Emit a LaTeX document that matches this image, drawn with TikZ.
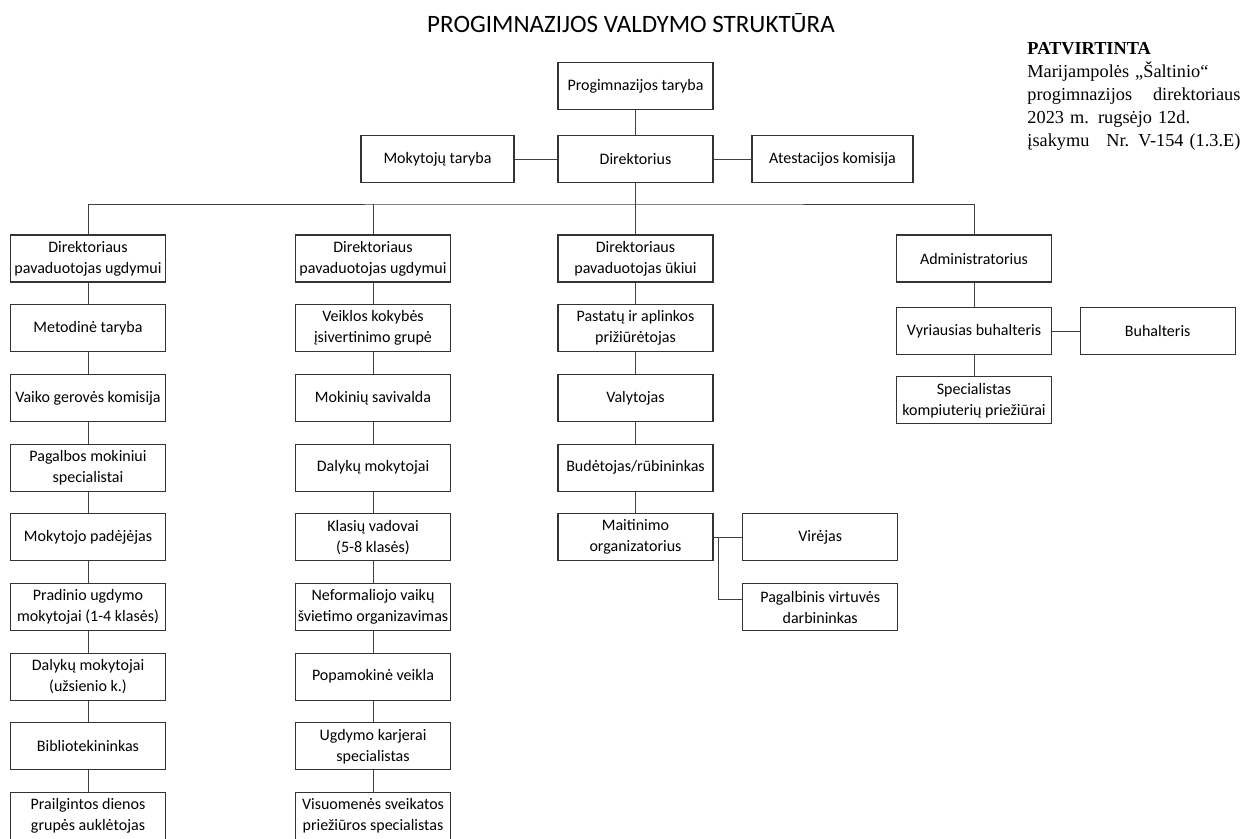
\documentclass[tikz,border=0pt]{standalone}
\usepackage{fontspec}
\setmainfont{Carlito}
\newfontfamily\notefont{Liberation Serif}
\usetikzlibrary{positioning}

\begin{document}
\begin{tikzpicture}[x=1pt,y=1pt,node distance=69.7pt,line width=0.9pt,
    box/.style={rectangle,draw=black!80,line width=1.1pt,minimum width=155pt,minimum height=47pt,inner sep=1pt,align=center,font=\fontsize{16}{21}\selectfont},
    link/.style={draw=black!75}]
            \useasboundingbox (0,0) rectangle (1241,-838);

            \node[] (title) at (631,-23) {\fontsize{25}{30}\selectfont PROGIMNAZIJOS VALDYMO STRUKTŪRA};
            \node[anchor=north west,align=left,text width=213pt,inner sep=0pt,font=\notefont\fontsize{18.3}{23}\selectfont] (note) at (1027,-42)
                {\textbf{PATVIRTINTA}\\Marijampolės „Šaltinio“\\progimnazijos\hfill direktoriaus\\2023 m. rugsėjo 12d.\\įsakymu\hfill Nr. V-154 (1.3.E)};

            \node[box] (taryba) at (635.5,-86) {Progimnazijos taryba};
            \node[box] (dir) at (635.5,-159) {Direktorius};
            \node[box,minimum width=153pt] (mokt) at (437.5,-159) {Mokytojų taryba};
            \node[box,minimum width=161pt] (atest) at (832.5,-159) {Atestacijos komisija};
            \coordinate (bus) at (635.5,-204);

            \node[box] (a1) at (88,-258.5) {Direktoriaus\\pavaduotojas ugdymui};
            \node[box] (a2) [below of = a1] {Metodinė taryba};
            \node[box] (a3) [below of = a2] {Vaiko gerovės komisija};
            \node[box] (a4) [below of = a3] {Pagalbos mokiniui\\specialistai};
            \node[box] (a5) [below of = a4] {Mokytojo padėjėjas};
            \node[box] (a6) [below of = a5] {Pradinio ugdymo\\mokytojai (1-4 klasės)};
            \node[box] (a7) [below of = a6] {Dalykų mokytojai\\(užsienio k.)};
            \node[box] (a8) [below of = a7] {Bibliotekininkas};
            \node[box] (a9) [below of = a8] {Prailgintos dienos\\grupės auklėtojas};

            \node[box] (b1) at (373,-258.5) {Direktoriaus\\pavaduotojas ugdymui};
            \node[box] (b2) [below of = b1] {Veiklos kokybės\\įsivertinimo grupė};
            \node[box] (b3) [below of = b2] {Mokinių savivalda};
            \node[box] (b4) [below of = b3] {Dalykų mokytojai};
            \node[box] (b5) [below of = b4] {Klasių vadovai\\(5-8 klasės)};
            \node[box] (b6) [below of = b5] {Neformaliojo vaikų\\švietimo organizavimas};
            \node[box] (b7) [below of = b6] {Popamokinė veikla};
            \node[box] (b8) [below of = b7] {Ugdymo karjerai\\specialistas};
            \node[box] (b9) [below of = b8] {Visuomenės sveikatos\\priežiūros specialistas};

            \node[box] (c1) at (635.5,-258.5) {Direktoriaus\\pavaduotojas ūkiui};
            \node[box] (c2) [below of = c1] {Pastatų ir aplinkos\\prižiūrėtojas};
            \node[box] (c3) [below of = c2] {Valytojas};
            \node[box] (c4) [below of = c3] {Budėtojas/rūbininkas};
            \node[box] (c5) [below of = c4] {Maitinimo\\organizatorius};
            \node[box] (virejas) [right of = c5, xshift = 115pt] {Virėjas};
            \node[box] (pagalb) [below of = virejas] {Pagalbinis virtuvės\\darbininkas};

            \node[box] (d1) at (974,-258.5) {Administratorius};
            \node[box] (d2) [below of = d1, yshift = -3pt] {Vyriausias buhalteris};
            \node[box] (d3) [below of = d2, yshift = 0.5pt] {Specialistas\\kompiuterių priežiūrai};
            \node[box] (buh) [right of = d2, xshift = 114pt] {Buhalteris};

            % top of the chart
            \path[link]
                (taryba) edge (dir)
                (mokt) edge (dir)
                (dir) edge (atest)
                (dir) edge (c1)
                (b1 |- bus) edge (b1)
                ;
            \draw[link] (a1) |- (bus) -| (d1);

            \path[link]
                (a1) edge (a2)
                (a2) edge (a3)
                (a3) edge (a4)
                (a4) edge (a5)
                (a5) edge (a6)
                (a6) edge (a7)
                (a7) edge (a8)
                (a8) edge (a9)

                (b1) edge (b2)
                (b2) edge (b3)
                (b3) edge (b4)
                (b4) edge (b5)
                (b5) edge (b6)
                (b6) edge (b7)
                (b7) edge (b8)
                (b8) edge (b9)

                (c1) edge (c2)
                (c2) edge (c3)
                (c3) edge (c4)
                (c4) edge (c5)
                (c5) edge (virejas)

                (d1) edge (d2)
                (d2) edge (d3)
                (d2) edge (buh)
                ;
            % kitchen branch
            \draw[link] ([xshift=5pt]c5.east) |- ([yshift=8pt]pagalb.west);
        \end{tikzpicture}
\end{document}
